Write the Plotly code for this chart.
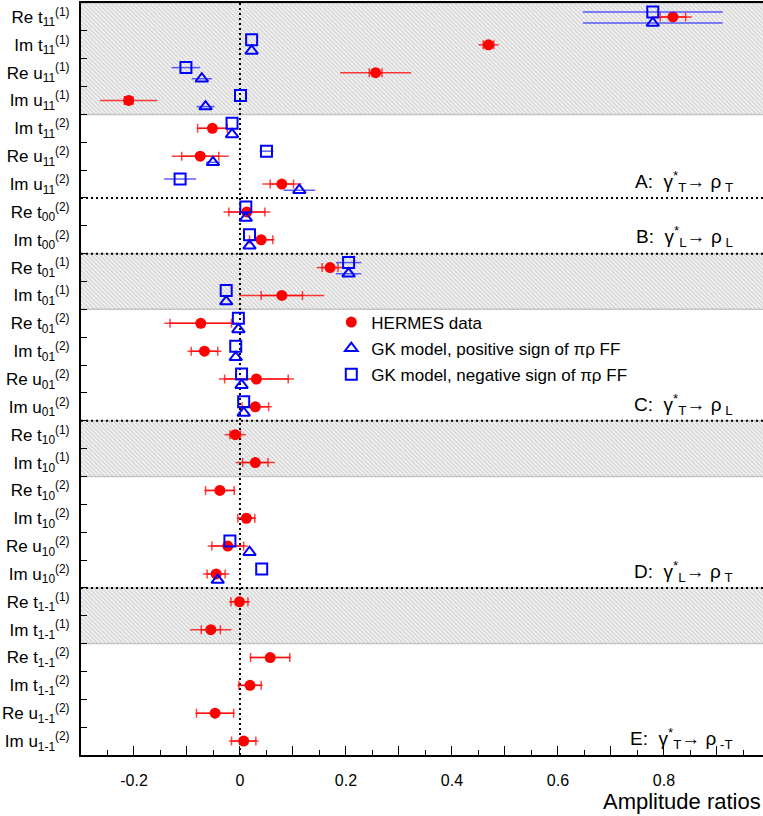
import plotly.graph_objects as go

# ---------------- data ----------------
row_kind = ["Re t", "Im t", "Re u", "Im u", "Im t", "Re u", "Im u",
            "Re t", "Im t",
            "Re t", "Im t", "Re t", "Im t", "Re u", "Im u",
            "Re t", "Im t", "Re t", "Im t", "Re u", "Im u",
            "Re t", "Im t", "Re t", "Im t", "Re u", "Im u"]
row_sub = ["11"] * 7 + ["00"] * 2 + ["01"] * 6 + ["10"] * 6 + ["1-1"] * 6
row_sup = ["(1)", "(1)", "(1)", "(1)", "(2)", "(2)", "(2)",
           "(2)", "(2)",
           "(1)", "(1)", "(2)", "(2)", "(2)", "(2)",
           "(1)", "(1)", "(2)", "(2)", "(2)", "(2)",
           "(1)", "(1)", "(2)", "(2)", "(2)", "(2)"]

hermes = [0.817, 0.469, 0.256, -0.210, -0.052, -0.075, 0.079,
          0.013, 0.040,
          0.170, 0.079, -0.074, -0.067, 0.031, 0.029,
          -0.009, 0.029, -0.038, 0.012, -0.023, -0.045,
          -0.001, -0.055, 0.057, 0.019, -0.047, 0.007]
hermes_tot = [0.036, 0.019, 0.067, 0.054, 0.029, 0.054, 0.037,
              0.044, 0.025,
              0.025, 0.080, 0.069, 0.032, 0.071, 0.031,
              0.020, 0.037, 0.029, 0.018, 0.038, 0.025,
              0.020, 0.039, 0.039, 0.024, 0.037, 0.028]
hermes_stat = [0.024, 0.010, 0.012, 0.008, 0.028, 0.035, 0.022,
               0.034, 0.022,
               0.015, 0.039, 0.058, 0.025, 0.060, 0.025,
               0.010, 0.024, 0.027, 0.016, 0.030, 0.017,
               0.016, 0.018, 0.037, 0.021, 0.035, 0.023]

gk_pos = [0.779, 0.022, -0.072, -0.065, -0.015, -0.051, 0.112,
          0.011, 0.018,
          0.205, -0.026, -0.003, -0.008, 0.003, 0.007,
          None, None, None, None, 0.018, -0.042,
          None, None, None, None, None, None]
gk_pos_err = [0.132, 0, 0.019, 0.017, 0, 0.013, 0.030,
              0, 0,
              0.024, 0, 0, 0, 0, 0,
              0, 0, 0, 0, 0, 0,
              0, 0, 0, 0, 0, 0]
gk_neg = [0.779, 0.022, -0.102, 0.001, -0.015, 0.050, -0.113,
          0.011, 0.018,
          0.205, -0.026, -0.003, -0.008, 0.003, 0.007,
          None, None, None, None, -0.019, 0.041,
          None, None, None, None, None, None]
gk_neg_err = [0.132, 0, 0.027, 0, 0, 0.013, 0.030,
              0, 0,
              0.024, 0, 0, 0, 0, 0,
              0, 0, 0, 0, 0, 0,
              0, 0, 0, 0, 0, 0]

group_names = ["A", "B", "C", "D", "E"]
group_sizes = [7, 2, 6, 6, 6]
group_gamma = ["T", "L", "T", "L", "T"]
group_rho = ["T", "L", "L", "T", "-T"]

x_ticks = [-0.2, 0, 0.2, 0.4, 0.6, 0.8]
x_range = [-0.3, 0.987]

# ---------------- figure ----------------
n = len(row_kind)
rows = list(range(n))
labels = [f"{k}<sub>{s}</sub><sup>{p}</sup>" for k, s, p in zip(row_kind, row_sub, row_sup)]

RED = "#ff0000"
BLUE = "#0000ff"
FONT = "Liberation Sans, Arial, Helvetica, sans-serif"

fig = go.Figure()

# hatched bands for "(1)" rows
runs = []
start = None
for i, p in enumerate(row_sup + [""]):
    if p == "(1)" and start is None:
        start = i
    elif p != "(1)" and start is not None:
        runs.append((start, i - 1))
        start = None
fig.add_trace(go.Bar(
    orientation="h",
    y=[(a + b) / 2 for a, b in runs],
    x=[x_range[1] - x_range[0] + 0.1] * len(runs),
    base=[x_range[0] - 0.05] * len(runs),
    width=[b - a + 1 for a, b in runs],
    marker=dict(color="#eeeeee",
                line=dict(color="#c4c4c4", width=1.5),
                pattern=dict(shape="\\", fgcolor="#a8a8a8", bgcolor="#f2f2f2",
                             size=3, solidity=0.35)),
    showlegend=False, hoverinfo="skip"))

# dotted zero line
fig.add_trace(go.Scatter(x=[0, 0], y=[-0.5, n - 0.5], mode="lines",
                         line=dict(color="black", width=2, dash="2px,3px"),
                         showlegend=False, hoverinfo="skip"))

# dotted group separators
cum = 0
for sz in group_sizes[:-1]:
    cum += sz
    fig.add_trace(go.Scatter(x=[x_range[0], x_range[1]], y=[cum - 0.5, cum - 0.5],
                             mode="lines",
                             line=dict(color="black", width=2, dash="2px,3px"),
                             showlegend=False, hoverinfo="skip"))

# HERMES stat error ticks
fig.add_trace(go.Scatter(
    x=hermes, y=rows, mode="markers", marker=dict(size=1, color="rgba(0,0,0,0)"),
    error_x=dict(type="data", array=hermes_stat, color="rgba(255,0,0,0.75)",
                 thickness=1.5, width=4.5),
    showlegend=False, hoverinfo="skip"))
# HERMES total error and points
fig.add_trace(go.Scatter(
    x=hermes, y=rows, mode="markers", name="HERMES data",
    marker=dict(symbol="circle", size=11, color=RED),
    error_x=dict(type="data", array=hermes_tot, color="rgba(255,0,0,0.75)",
                 thickness=1.5, width=0),
    legendgroup="a"))

tri_y = [r + 0.22 for r in rows]
sq_y = [r - 0.18 for r in rows]
fig.add_trace(go.Scatter(
    x=gk_pos, y=tri_y, mode="markers", name="GK model, positive sign of πρ FF",
    marker=dict(symbol="triangle-up-open", size=11, color=BLUE, line=dict(width=2)),
    error_x=dict(type="data", array=gk_pos_err, color="rgba(40,40,255,0.75)",
                 thickness=1.5, width=0),
    legendgroup="b"))
fig.add_trace(go.Scatter(
    x=gk_neg, y=sq_y, mode="markers", name="GK model, negative sign of πρ FF",
    marker=dict(symbol="square-open", size=11, color=BLUE, line=dict(width=2)),
    error_x=dict(type="data", array=gk_neg_err, color="rgba(40,40,255,0.75)",
                 thickness=1.5, width=0),
    legendgroup="c"))

# group labels
cum = 0
for name, sz, g, r in zip(group_names, group_sizes, group_gamma, group_rho):
    cum += sz
    fig.add_annotation(
        x=0.935, y=cum - 1 - 0.1, xref="x", yref="y", xanchor="right", yanchor="middle",
        text=f"{name}:  γ<sup>*</sup><sub>{g}</sub>→ ρ<sub> {r}</sub>",
        showarrow=False, font=dict(family=FONT, size=19, color="black"))

fig.add_annotation(x=1.0, y=-0.042, xref="paper", yref="paper", xanchor="right",
                   yanchor="top", text="Amplitude ratios", showarrow=False,
                   font=dict(family=FONT, size=22, color="black"))

# x ticks
major = [round(-0.3 + 0.1 * i, 2) for i in range(13)]
tick_text = [(f"{v:g}" if v in x_ticks else "") for v in major]

fig.update_layout(
    width=763, height=816,
    margin=dict(l=81, r=0, t=3, b=61, autoexpand=False),
    plot_bgcolor="white", paper_bgcolor="white",
    barmode="overlay",
    font=dict(family=FONT, color="black"),
    legend=dict(x=0.367, y=0.599, xanchor="left", yanchor="top",
                bgcolor="rgba(0,0,0,0)", font=dict(family=FONT, size=17),
                tracegroupgap=1, itemwidth=30),
    xaxis=dict(range=x_range, tickvals=major, ticktext=tick_text, automargin=False,
               ticks="inside", ticklen=9, tickwidth=1.2, tickcolor="black",
               minor=dict(dtick=0.05, tick0=0, ticks="inside", ticklen=5,
                          tickcolor="black", tickwidth=1),
               showgrid=False, zeroline=False, showline=True, linecolor="black",
               linewidth=2, mirror=True,
               tickfont=dict(family=FONT, size=16), ticklabelstandoff=10),
    yaxis=dict(range=[n - 0.5, -0.5], tickvals=rows, ticktext=labels, automargin=False,
               ticks="", showgrid=False, zeroline=False, showline=True,
               linecolor="black", linewidth=2,
               minor=dict(tickvals=[i - 0.5 for i in range(1, n)], ticks="inside",
                          ticklen=6, tickcolor="black", tickwidth=1),
               tickfont=dict(family=FONT, size=17), ticklabelstandoff=6),
)

fig.write_html("out.html", config={"displayModeBar": False},
               post_script="document.body.style.margin='0';document.body.style.overflow='hidden';")
